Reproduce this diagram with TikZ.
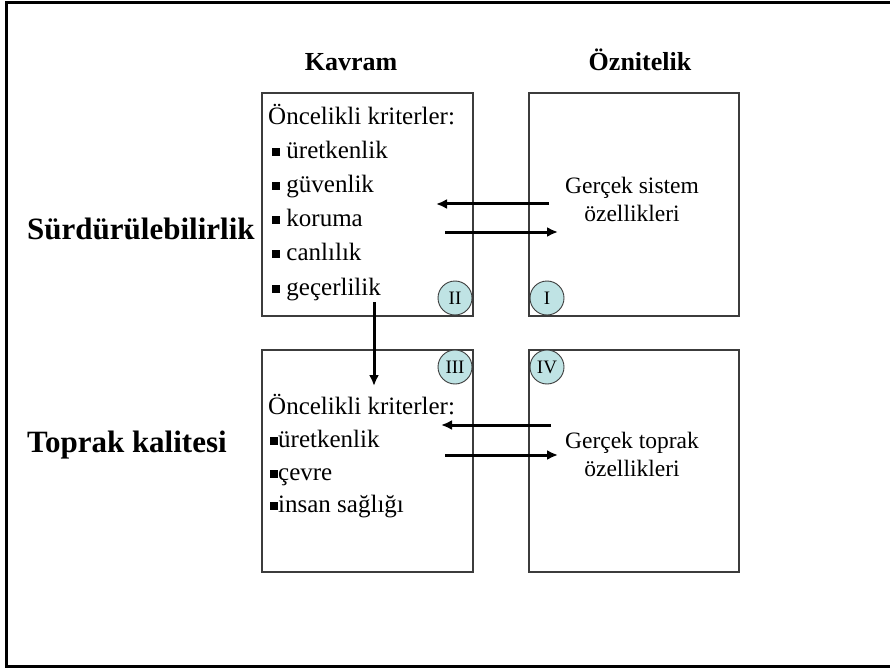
\documentclass[tikz,border=0pt]{standalone}
\usepackage{fontspec}
\setmainfont{Liberation Serif}
\usetikzlibrary{arrows.meta}
\definecolor{discfill}{HTML}{BFE3E4}
\definecolor{boxline}{HTML}{3C3C3C}
\tikzset{
  panel/.style={draw=boxline, line width=1.2pt, minimum width=#1, inner sep=0pt},
  badge/.style={circle, draw=boxline, fill=discfill, line width=0.9pt, minimum size=34pt, inner sep=0pt, font=\fontsize{19}{19}\selectfont},
  head/.style={font=\fontsize{26}{26}\selectfont\bfseries, anchor=base, inner sep=0pt},
  rowhead/.style={font=\fontsize{31}{31}\selectfont\bfseries, anchor=base west, inner sep=0pt},
  line/.style={font=\fontsize{25}{25}\selectfont, anchor=base west, inner sep=0pt},
  attr/.style={font=\fontsize{23.5}{23.5}\selectfont, anchor=base, inner sep=0pt},
  flow/.style={line width=3pt, -{Latex[length=11pt,width=10pt]}},
}
\newcommand{\blt}{\rule[0.1em]{8pt}{8pt}}
\begin{document}
\begin{tikzpicture}[x=1pt,y=-1pt]
\useasboundingbox (0,0) rectangle (890,668);
% outer frame
\draw[line width=3pt] (895,3) -- (6,3) -- (6,666) -- (895,666);

% panels
\node[panel=211pt, minimum height=223pt] (tl) at (367.5,204.5) {};
\node[panel=210pt, minimum height=223pt] (tr) at (634,204.5) {};
\node[panel=211pt, minimum height=222pt] (bl) at (367.5,461) {};
\node[panel=210pt, minimum height=222pt] (br) at (634,461) {};

% column and row headings
\node[head] (kav) at (351,71) {Kavram};
\node[head] (ozn) at (640,71) {Öznitelik};
\node[rowhead] (sur) at (27,239) {Sürdürülebilirlik};
\node[rowhead] (top) at (27,452) {Toprak kalitesi};

% criteria, upper panel
\node[line] (a0) at (268,125) {Öncelikli kriterler:};
\node[line] (a1) at (272,159) {\blt\ üretkenlik};
\node[line] (a2) at (272,193) {\blt\ güvenlik};
\node[line] (a3) at (272,226) {\blt\ koruma};
\node[line] (a4) at (272,260) {\blt\ canlılık};
\node[line] (a5) at (272,295) {\blt\ geçerlilik};

% criteria, lower panel
\node[line] (b0) at (268,414) {Öncelikli kriterler:};
\node[line] (b1) at (270,447) {\blt üretkenlik};
\node[line] (b2) at (270,480) {\blt çevre};
\node[line] (b3) at (270,512) {\blt insan sağlığı};

% attribute texts
\node[attr] (c1) at (632,194) {Gerçek sistem};
\node[attr] (c2) at (632,222) {özellikleri};
\node[attr] (d1) at (632,448) {Gerçek toprak};
\node[attr] (d2) at (632,476) {özellikleri};

% quadrant badges
\node[badge] (q2) at (455,298) {II};
\node[badge] (q1) at (547,298) {I};
\node[badge] (q3) at (455,367) {III};
\node[badge] (q4) at (547,367) {IV};

% flows
\coordinate (u1s) at (549,204); \coordinate (u1e) at (436,204);
\coordinate (u2s) at (445,232); \coordinate (u2e) at (558,232);
\coordinate (l1s) at (551,425); \coordinate (l1e) at (441,425);
\coordinate (l2s) at (445,455); \coordinate (l2e) at (558,455);
\coordinate (vs) at (374,302); \coordinate (ve) at (374,386);
\draw[flow] (u1s) -- (u1e);
\draw[flow] (u2s) -- (u2e);
\draw[flow] (l1s) -- (l1e);
\draw[flow] (l2s) -- (l2e);
\draw[flow] (vs) -- (ve);
\end{tikzpicture}
\end{document}
